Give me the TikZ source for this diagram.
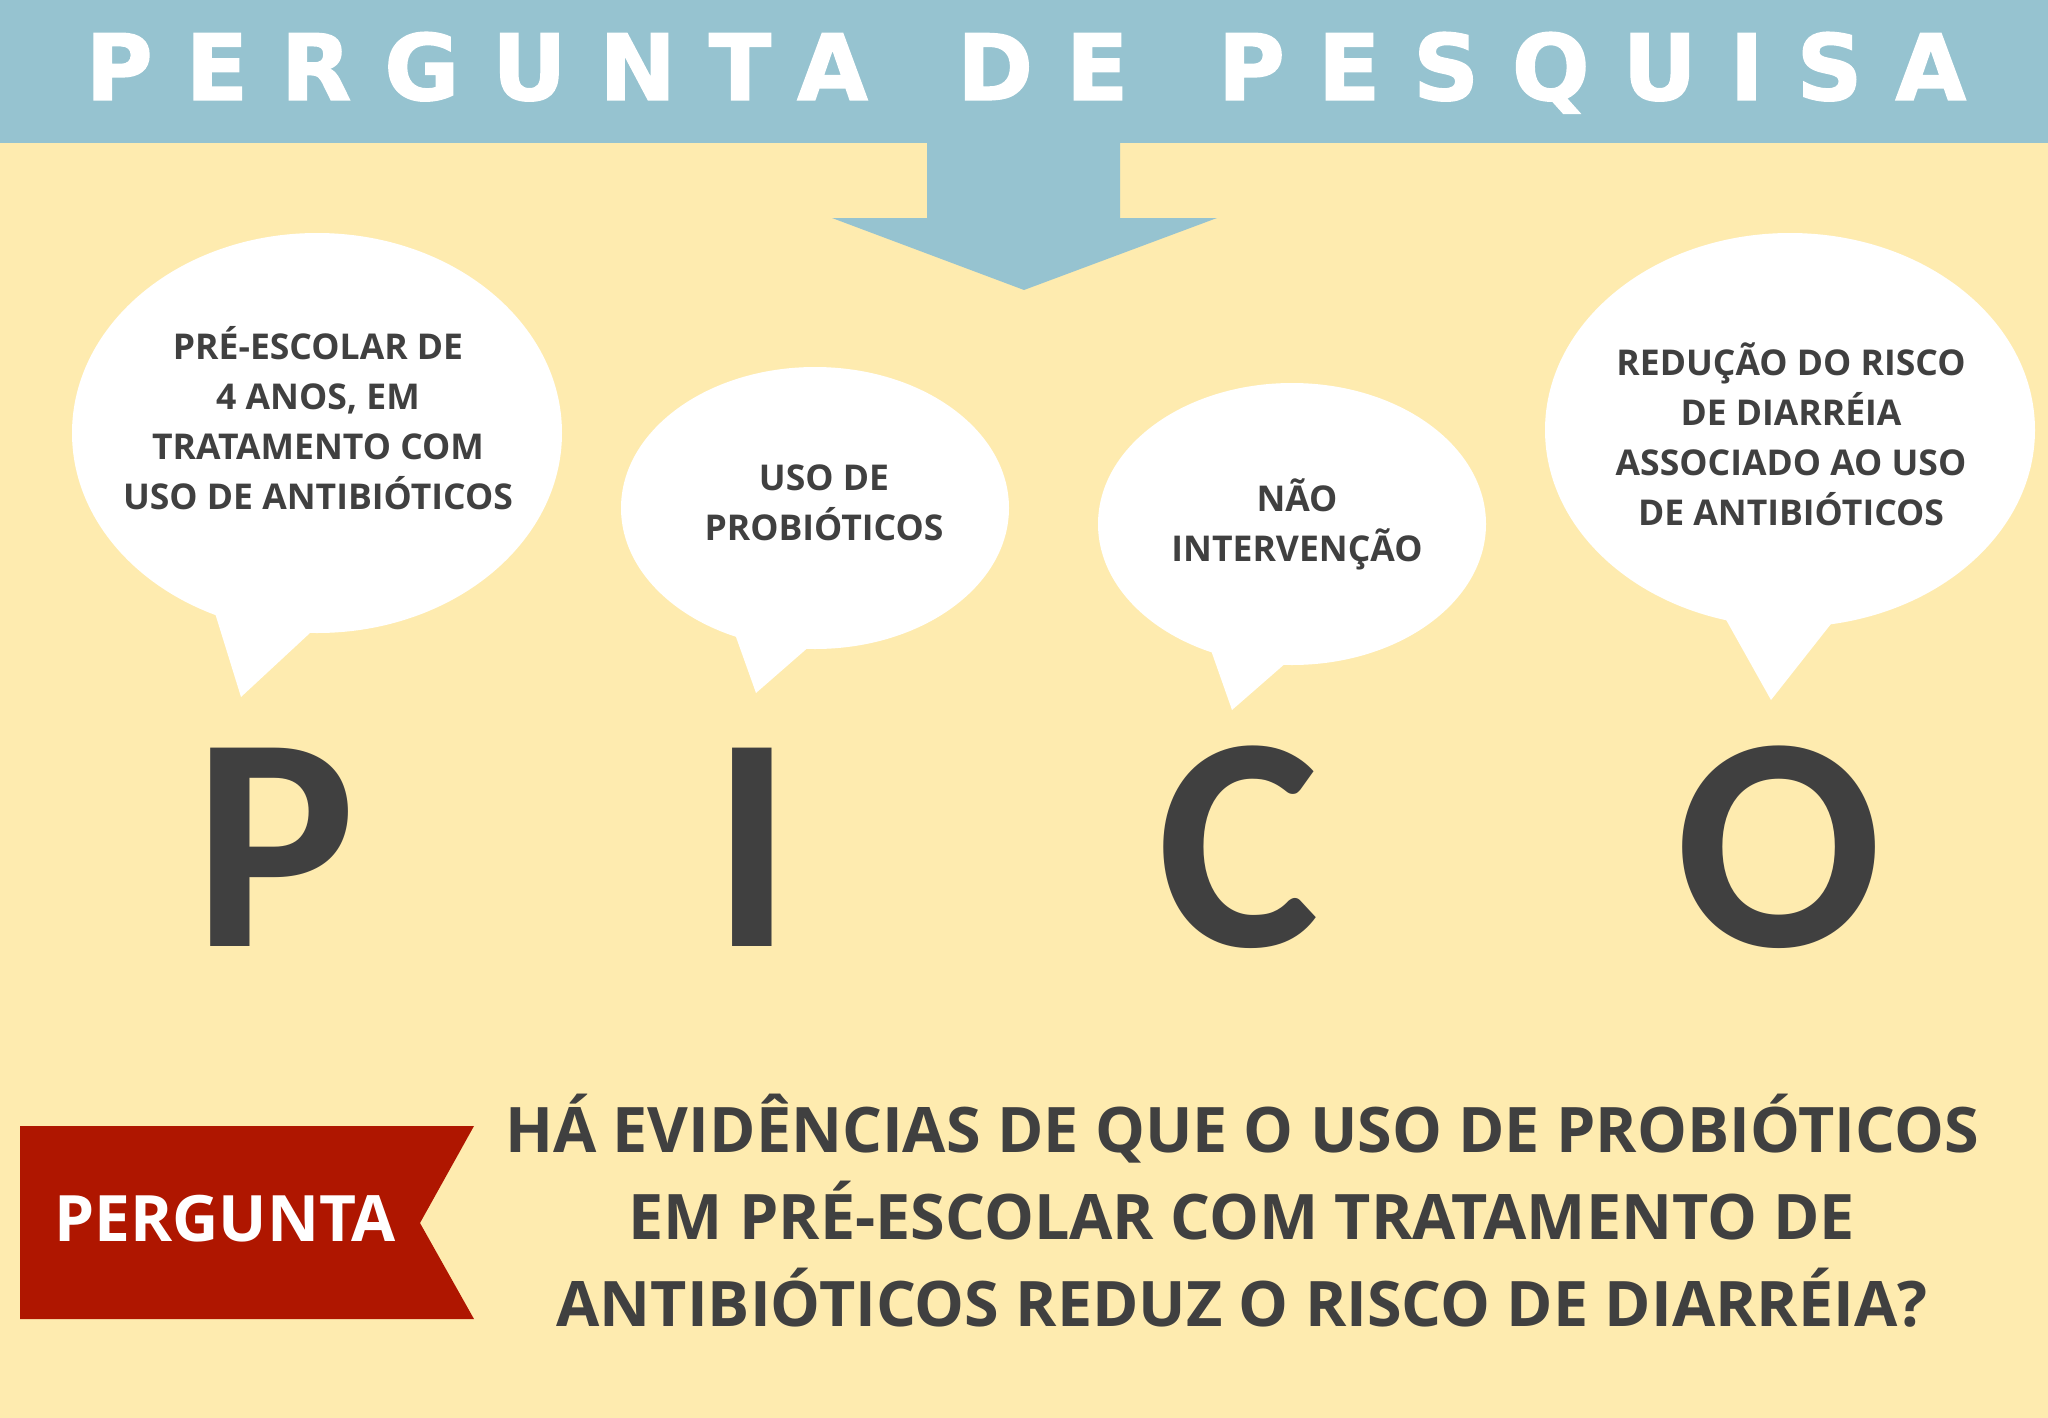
\documentclass[tikz,border=0pt]{standalone}
\usepackage{fontspec}
\setmainfont{Open Sans}
\newfontfamily\titlefont[LetterSpace=36,FakeBold=1.5]{DejaVu Sans}
\newfontfamily\picofont{Carlito}
\definecolor{fundo}{RGB}{254,235,175}
\definecolor{faixa}{RGB}{150,195,208}
\definecolor{texto}{RGB}{64,64,64}
\definecolor{fita}{RGB}{175,22,0}
\tikzset{
  bubble/.style={fill=white},
  bubtext/.style={text=texto,align=center,font=\bfseries\fontsize{10.1}{14.2}\selectfont},
  letra/.style={text=texto,anchor=base,font=\picofont\bfseries\fontsize{87}{87}\selectfont},
}
\begin{document}
\begin{tikzpicture}[x=0.01cm,y=-0.01cm]
      \useasboundingbox (0,0) rectangle (2048,1418);
      \fill[fundo] (0,0) rectangle (2048,1418);
      % faixa e seta
      \fill[faixa] (0,0) rectangle (2048,143);
      \fill[faixa] (927,130) -- (927,218) -- (832,218) -- (1024,290)
        -- (1217,218) -- (1120,218) -- (1120,130) -- cycle;
      \node[anchor=base,text=white,font=\titlefont\bfseries\fontsize{26}{26}\selectfont]
        (titulo) at (1026,100) {PERGUNTA\hspace{7pt} DE\hspace{7pt} PESQUISA};
      % baloes
      \fill[bubble] (317,433) ellipse [x radius=245, y radius=200];
      \fill[bubble] (210,597) -- (241,697) -- (324,620) -- cycle;
      \fill[bubble] (815,508) ellipse [x radius=194, y radius=141];
      \fill[bubble] (731,623) -- (756,693) -- (819,638) -- cycle;
      \fill[bubble] (1292,524) ellipse [x radius=194, y radius=141];
      \fill[bubble] (1207,639) -- (1232,710) -- (1295,655) -- cycle;
      \fill[bubble] (1790,430) ellipse [x radius=245, y radius=197];
      \fill[bubble] (1720,609) -- (1771,700) -- (1838,615) -- cycle;
      \node[bubtext] (pop) at (318,418)
        {PRÉ-ESCOLAR DE\\4 ANOS, EM\\TRATAMENTO COM\\USO DE ANTIBIÓTICOS};
      \node[bubtext] (interv) at (824,503) {USO DE\\PROBIÓTICOS};
      \node[bubtext] (comp) at (1297,524) {NÃO\\INTERVENÇÃO};
      \node[bubtext] (desf) at (1791,434)
        {REDUÇÃO DO RISCO\\DE DIARRÉIA\\ASSOCIADO AO USO\\DE ANTIBIÓTICOS};
      % letras
      \node[letra] (p) at (275,946) {P};
      \node[letra] (i) at (752,946) {I};
      \node[letra] (c) at (1238,946) {C};
      \node[letra] (o) at (1779,946) {O};
      % pergunta
      \fill[fita] (20,1126) -- (474,1126) -- (420,1223) -- (474,1319) -- (20,1319) -- cycle;
      \node[anchor=base,text=white,font=\bfseries\fontsize{18.2}{18.2}\selectfont]
        (fita) at (225,1241) {PERGUNTA};
      \node[text=texto,align=center,font=\bfseries\fontsize{17.85}{24.75}\selectfont]
        (pergunta) at (1242,1211)
        {HÁ EVIDÊNCIAS DE QUE O USO DE PROBIÓTICOS\\EM PRÉ-ESCOLAR COM TRATAMENTO DE\\ANTIBIÓTICOS REDUZ O RISCO DE DIARRÉIA?};
\end{tikzpicture}
\end{document}
